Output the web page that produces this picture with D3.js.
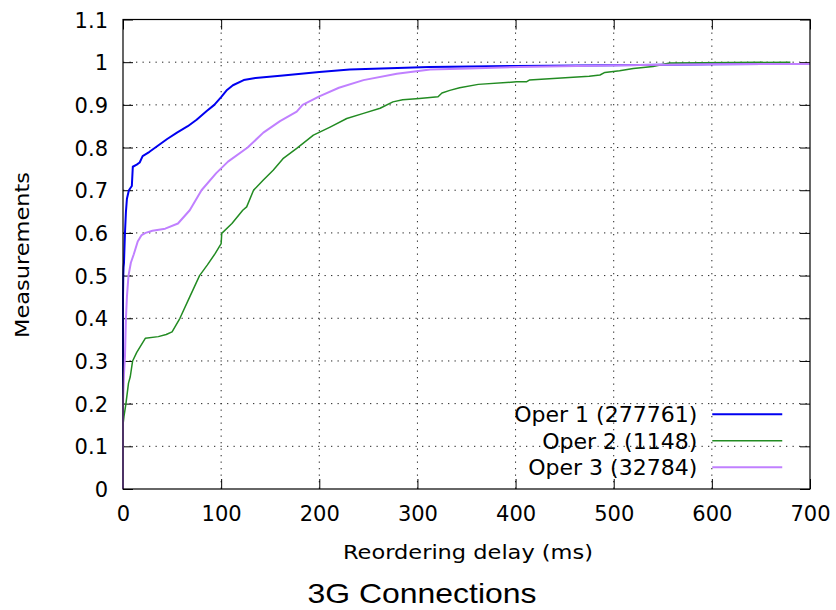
<!DOCTYPE html>
<html>
<head>
<meta charset="utf-8">
<script src="https://cdn.jsdelivr.net/npm/d3@7"></script>
<style>
body { margin: 0; background: #fff; }
text { font-family: "DejaVu Sans", sans-serif; fill: #000; }
</style>
</head>
<body>
<div id="body"></div>
<script>
// values
const seriesNames = ["Oper 1 (277761)", "Oper 2 (1148)", "Oper 3 (32784)"];
const seriesColors = ["#0000f0", "#228b22", "#c080ff"];
const seriesWidths = [2, 1.5, 2];

const oper1Delay = [0, 0, 0.3, 0.6, 1, 2, 3, 4, 6, 9, 10, 14, 17, 20, 27, 33, 45, 55, 66, 75, 85, 93, 100, 106, 112, 123, 135, 163, 200, 231, 312, 400, 500, 600, 700];
const oper1Frac = [0, 0.45, 0.5, 0.52, 0.53, 0.6, 0.65, 0.68, 0.70, 0.71, 0.755, 0.76, 0.765, 0.78, 0.79, 0.80, 0.82, 0.835, 0.85, 0.865, 0.885, 0.9, 0.918, 0.935, 0.946, 0.958, 0.963, 0.969, 0.977, 0.983, 0.989, 0.991, 0.993, 0.995, 0.996];

const oper2Delay = [0, 0, 1, 3, 5.6, 7.4, 9.8, 14, 22.7, 36, 44, 50, 58, 68, 78, 86, 94, 100, 100.6, 111, 122, 126, 133, 143, 153, 163, 177, 194, 211, 228, 245, 262, 275, 285, 302, 321, 325, 333, 343, 362, 401, 411, 414, 475, 486, 491, 506, 520, 540, 557, 680];
const oper2Frac = [0, 0.15, 0.17, 0.2, 0.248, 0.263, 0.3, 0.32, 0.353, 0.357, 0.362, 0.368, 0.4, 0.45, 0.5, 0.525, 0.552, 0.575, 0.599, 0.622, 0.653, 0.661, 0.70, 0.724, 0.747, 0.774, 0.798, 0.829, 0.848, 0.868, 0.88, 0.892, 0.907, 0.912, 0.915, 0.919, 0.928, 0.934, 0.94, 0.948, 0.954, 0.954, 0.958, 0.967, 0.97, 0.976, 0.98, 0.985, 0.99, 0.998, 1.0];

const oper3Delay = [0, 0, 1, 2, 3, 4, 5.6, 8, 11, 15, 19, 23, 30, 43, 56, 68, 80, 95, 107, 127, 143, 160, 177, 183, 200, 220, 245, 279, 313, 353, 404, 506, 600, 700];
const oper3Frac = [0, 0.2, 0.27, 0.31, 0.4, 0.45, 0.5, 0.53, 0.55, 0.58, 0.595, 0.6, 0.605, 0.61, 0.622, 0.653, 0.7, 0.74, 0.767, 0.8, 0.835, 0.862, 0.884, 0.9, 0.92, 0.94, 0.958, 0.973, 0.983, 0.985, 0.989, 0.993, 0.995, 0.996];

const xTicks = [0, 100, 200, 300, 400, 500, 600, 700];
const yTicks = [0, 0.1, 0.2, 0.3, 0.4, 0.5, 0.6, 0.7, 0.8, 0.9, 1, 1.1];

const margin = {top: 19.5, right: 26, bottom: 121, left: 123};
var width = 836 - margin.left - margin.right,
		height = 610 - margin.top - margin.bottom;

var svg = d3.select("#body").append("svg")
		.attr("width", 836).attr("height", 610);
var g = svg.append("g").attr("transform", "translate(" + margin.left + "," + margin.top + ")");

var x = d3.scaleLinear().domain([0, 700]).range([0, width]);
var y = d3.scaleLinear().domain([0, 1.1]).range([height, 0]);

// dotted grid
g.append("g").selectAll("line").data(xTicks.slice(1, -1)).enter().append("line")
		.attr("x1", d => x(d)).attr("x2", d => x(d)).attr("y1", 0).attr("y2", height)
		.attr("stroke", "#222").attr("stroke-dasharray", "1.3,5.2");
g.append("g").selectAll("line").data(yTicks.slice(1, -1)).enter().append("line")
		.attr("x1", 0).attr("x2", width).attr("y1", d => y(d)).attr("y2", d => y(d))
		.attr("stroke", "#222").attr("stroke-dasharray", "1.3,5.2");

// axes, gnuplot style: ticks inside, mirrored
var tk = 10;
var xAxis = g.append("g").attr("transform", "translate(0," + height + ")")
		.call(d3.axisBottom(x).tickValues(xTicks).tickSizeInner(-tk).tickSizeOuter(0).tickPadding(17).tickFormat(d3.format("d")));
var yAxis = g.append("g")
		.call(d3.axisLeft(y).tickValues(yTicks).tickSizeInner(-tk).tickSizeOuter(0).tickPadding(15).tickFormat(d => d3.format("")(+d.toFixed(1))));
g.append("g").call(d3.axisTop(x).tickValues(xTicks).tickSizeInner(-tk).tickSizeOuter(0).tickFormat(""));
g.append("g").attr("transform", "translate(" + width + ",0)")
		.call(d3.axisRight(y).tickValues(yTicks).tickSizeInner(-tk).tickSizeOuter(0).tickFormat(""));
g.selectAll(".domain").remove();
g.selectAll(".tick line").attr("stroke", "#000");
xAxis.selectAll("text").attr("font-size", 21).attr("font-family", "DejaVu Sans").attr("fill", "#000");
yAxis.selectAll("text").attr("font-size", 21).attr("font-family", "DejaVu Sans").attr("fill", "#000").attr("dy", "0.36em");

// series
var data = [
	oper1Delay.map((d, i) => ({x: d, y: oper1Frac[i]})),
	oper2Delay.map((d, i) => ({x: d, y: oper2Frac[i]})),
	oper3Delay.map((d, i) => ({x: d, y: oper3Frac[i]}))
];
var line = d3.line().x(d => x(d.x)).y(d => y(d.y));
data.forEach(function(s, i){
	g.append("path").attr("d", line(s)).attr("fill", "none")
		.attr("stroke", seriesColors[i]).attr("stroke-width", seriesWidths[i])
		.attr("stroke-linejoin", "round");
});

// frame
g.append("rect").attr("width", width).attr("height", height)
		.attr("fill", "none").attr("stroke", "#000").attr("stroke-width", 1.2);

// legend
var legend = g.append("g").attr("transform", "translate(" + x(600.4) + "," + (y(0.175)) + ")");
seriesNames.forEach(function(n, i){
	var row = legend.append("g").attr("transform", "translate(0," + (i * 26.5) + ")");
	row.append("text").attr("x", -15).attr("dy", "0.36em").attr("text-anchor", "end")
		.attr("font-size", 22).text(n);
	row.append("line").attr("x1", 0).attr("x2", 70).attr("stroke", seriesColors[i]).attr("stroke-width", seriesWidths[i]);
});

// labels
svg.append("text").attr("transform", "translate(29," + 255 + ") rotate(-90)")
		.attr("text-anchor", "middle").attr("font-size", 20)
		.attr("textLength", 166).attr("lengthAdjust", "spacingAndGlyphs").text("Measurements");
svg.append("text").attr("x", 468).attr("y", 559).attr("text-anchor", "middle")
		.attr("font-size", 20).attr("textLength", 250).attr("lengthAdjust", "spacingAndGlyphs")
		.text("Reordering delay (ms)");
svg.append("text").attr("x", 422).attr("y", 603).attr("text-anchor", "middle")
		.attr("font-size", 28).style("font-family", "'Liberation Sans', Arial, sans-serif")
		.attr("textLength", 229).attr("lengthAdjust", "spacingAndGlyphs").text("3G Connections");
</script>
</body>
</html>
